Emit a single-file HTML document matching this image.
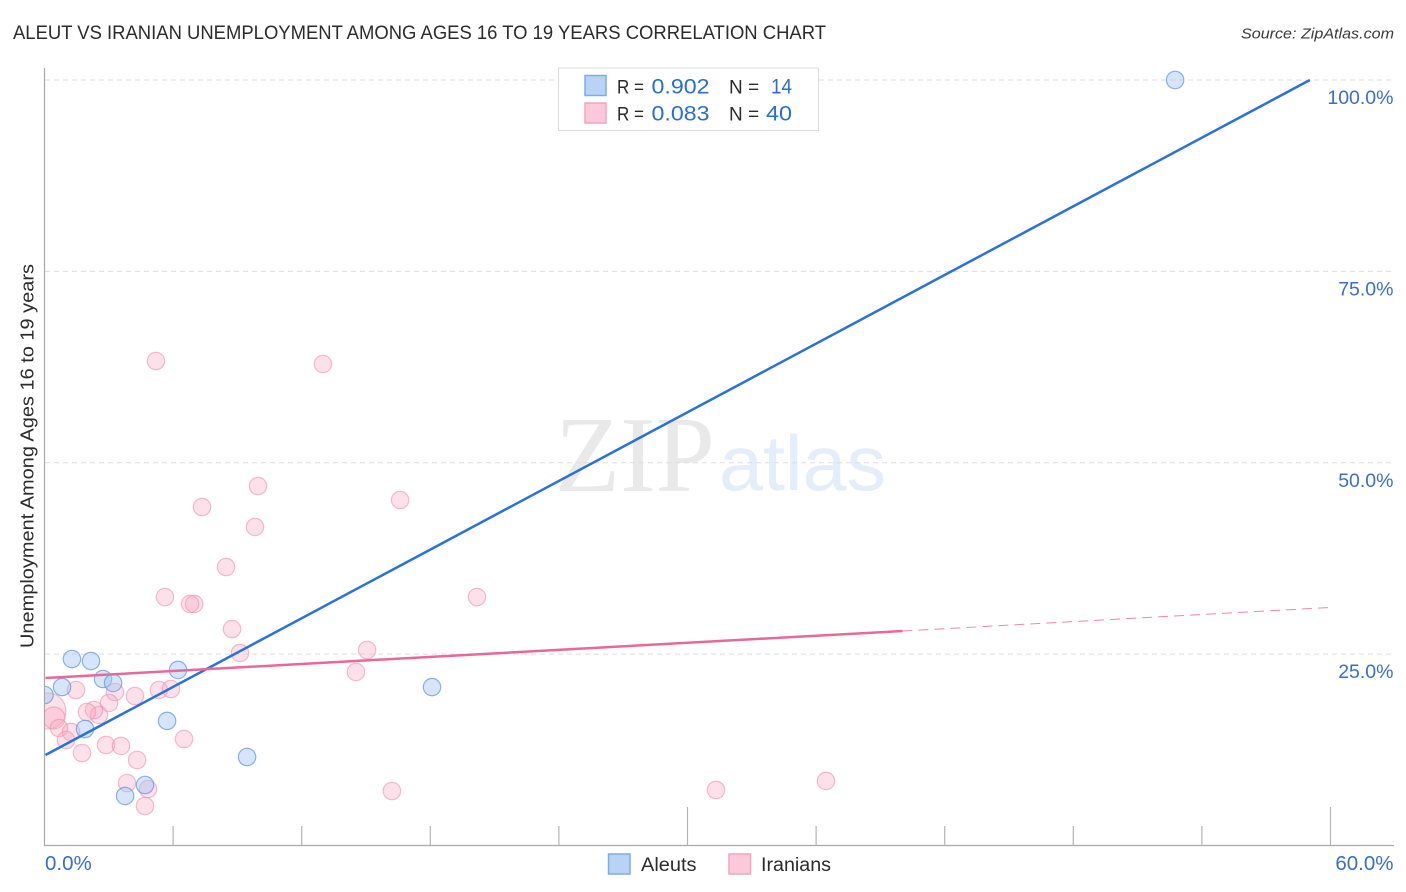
<!DOCTYPE html>
<html lang="en">
<head>
<meta charset="utf-8">
<title>Aleut vs Iranian Unemployment Among Ages 16 to 19 Years Correlation Chart</title>
<style>
html,body{margin:0;padding:0;background:#fff;}
svg{display:block;font-family:"Liberation Sans",sans-serif;}
.tick-label{fill:#3a6fc9;font-size:19.5px;}
.dark{fill:#2b2b2b;}
.val{fill:#2a6fd0;font-size:21px;}
</style>
</head>
<body>
<svg id="chart" width="1406" height="892" viewBox="0 0 1406 892" xmlns="http://www.w3.org/2000/svg">
  <defs>
    <clipPath id="plot-clip"><rect x="45" y="60" width="1349" height="785"></rect></clipPath>
  </defs>
  <text x="13" y="39" font-size="19" fill="#2b2b2b" textLength="813" lengthAdjust="spacingAndGlyphs">ALEUT VS IRANIAN UNEMPLOYMENT AMONG AGES 16 TO 19 YEARS CORRELATION CHART</text>
  <text x="1241" y="38.500" font-size="15" font-style="italic" fill="#3a3a3a" textLength="153" lengthAdjust="spacingAndGlyphs">Source: ZipAtlas.com</text>

  <g>
    <text x="555" y="491" font-family="'Liberation Serif',serif" font-size="108" fill="#e9e9e9" textLength="160" lengthAdjust="spacingAndGlyphs">ZIP</text>
    <text x="719" y="490" font-size="78" fill="#e4edfa" textLength="167" lengthAdjust="spacingAndGlyphs">atlas</text>
  </g>

  <g id="grid"></g>
  <g id="axes"></g>
  <g id="points" clip-path="url(#plot-clip)"></g>
  <g id="trends"></g>
  <g id="tick-labels"></g>

  <text transform="translate(33.500,456) rotate(-90)" text-anchor="middle" font-size="18.500" fill="#2b2b2b" textLength="384" lengthAdjust="spacingAndGlyphs">Unemployment Among Ages 16 to 19 years</text>

  <g>
    <rect x="558.500" y="68" width="260" height="62.500" fill="#fff" fill-opacity="0.9" stroke="#dcdcdc" stroke-width="1"></rect>
    <rect x="585" y="75.500" width="21" height="20" fill="#b9d3f7" stroke="#7fabe6" stroke-width="1.500"></rect>
    <rect x="585" y="103" width="21" height="20" fill="#fcc8da" stroke="#f2a6c0" stroke-width="1.500"></rect>
    <text class="dark" x="617" y="93.500" font-size="19" textLength="27" lengthAdjust="spacingAndGlyphs">R =</text>
    <text class="val" x="651.500" y="93.500" textLength="58" lengthAdjust="spacingAndGlyphs">0.902</text>
    <text class="dark" x="729" y="93.500" font-size="19">N =</text>
    <text class="val" x="771" y="93.500" textLength="21" lengthAdjust="spacingAndGlyphs">14</text>
    <text class="dark" x="617" y="120.500" font-size="19" textLength="27" lengthAdjust="spacingAndGlyphs">R =</text>
    <text class="val" x="651.500" y="120.500" textLength="58" lengthAdjust="spacingAndGlyphs">0.083</text>
    <text class="dark" x="729" y="120.500" font-size="19">N =</text>
    <text class="val" x="766" y="120.500" textLength="26" lengthAdjust="spacingAndGlyphs">40</text>
  </g>

  <g>
    <rect x="608.500" y="854" width="21.500" height="20" fill="#b9d3f7" stroke="#7fabe6" stroke-width="1.500"></rect>
    <text class="dark" x="641" y="871" font-size="19" textLength="55.500" lengthAdjust="spacingAndGlyphs">Aleuts</text>
    <rect x="729" y="854" width="21.500" height="20" fill="#fcc8da" stroke="#f2a6c0" stroke-width="1.500"></rect>
    <text class="dark" x="761" y="871" font-size="19" textLength="70" lengthAdjust="spacingAndGlyphs">Iranians</text>
  </g>
</svg>
<script>
var aleutX = [52.75, 1.28, 2.17, 2.73, 3.2, 0.82, 0, 6.23, 18.08, 5.72, 1.89, 9.45, 4.69, 3.76];
var aleutY = [100, 24.36, 24.1, 21.75, 21.23, 20.7, 19.66, 22.93, 20.7, 16.27, 15.22, 11.56, 7.9, 6.47];
var iranianX = [5.2, 12.99, 9.96, 16.59, 7.35, 9.82, 8.47, 5.62, 20.18, 6.98, 6.79, 8.75, 9.12, 15.05, 14.53, 3.29, 1.47, 4.22, 5.34, 5.9, 3.01, 2.54, 2.31, 1.98, 0.16, 0.44, 0.68, 1.24, 1.0, 1.75, 2.87, 3.57, 4.32, 3.85, 4.83, 4.69, 16.21, 31.33, 36.46, 6.51];
var iranianY = [63.29, 62.9, 46.96, 45.13, 44.22, 41.61, 36.38, 32.46, 32.46, 31.55, 31.55, 28.28, 25.15, 25.54, 22.67, 20.05, 20.31, 19.53, 20.31, 20.44, 18.62, 17.05, 17.7, 17.44, 17.57, 16.66, 15.35, 14.83, 13.78, 12.08, 13.13, 13.0, 11.17, 8.16, 7.38, 5.16, 7.12, 7.25, 8.43, 13.91];
var iranianWeight = [1, 1, 1, 1, 1, 1, 1, 1, 1, 1, 1, 1, 1, 1, 1, 1, 1, 1, 1, 1, 1, 1, 1, 1, 4.3, 1.6, 1, 1, 1, 1, 1, 1, 1, 1, 1, 1, 1, 1, 1, 1];
var aleutTrendX = [0, 59.04];
var aleutTrendY = [11.82, 100];
var iranianTrendX = [0, 40.03];
var iranianTrendY = [21.88, 28.02];
var iranianForecastX = [40.03, 60];
var iranianForecastY = [28.02, 31.1];
var yTicks = [100, 75, 50, 25];
var yTickLabels = ["100.0%", "75.0%", "50.0%", "25.0%"];
var xTicks = [6, 12, 18, 24, 30, 36, 42, 48, 54, 60];
var xMajorTicks = [30, 60];
var xEndLabels = ["0.0%", "60.0%"];
var xEndValues = [0, 60];

var NS = 'http://www.w3.org/2000/svg';
function sx(v) { return 44.5 + v * 1286 / 60; }
function sy(v) { return 845.5 - v * 7.655; }
function make(tag, parent, attrs) {
  var el = document.createElementNS(NS, tag);
  for (var k in attrs) { el.setAttribute(k, attrs[k]); }
  parent.appendChild(el);
  return el;
}
var grid = document.getElementById('grid');
var axes = document.getElementById('axes');
var pointsLayer = document.getElementById('points');
var trends = document.getElementById('trends');
var labels = document.getElementById('tick-labels');

yTicks.forEach(function (t, i) {
  var line = make('line', grid, { x1: 45, x2: 1394, y1: sy(t), y2: sy(t), stroke: '#dddddd', 'stroke-width': 1, 'stroke-dasharray': '5 4' });
  
  
  var label = make('text', labels, { x: 1393.5, y: sy(t) + 24, 'text-anchor': 'end', 'class': 'tick-label' });
  
  
  label.textContent = yTickLabels[i];
});

var yAxis = make('line', axes, { x1: 44.5, x2: 44.5, y1: 68, y2: 846, stroke: '#a9a9a9', 'stroke-width': 1.2 });


var xAxis = make('line', axes, { x1: 44, x2: 1394, y1: 845.5, y2: 845.5, stroke: '#a9a9a9', 'stroke-width': 1.2 });



xTicks.forEach(function (t) {
  var major = xMajorTicks.indexOf(t) >= 0;
  var tick = make('line', axes, { x1: sx(t), x2: sx(t), y1: major ? 807 : 826, y2: 845.5, stroke: '#b4b4b4', 'stroke-width': 1.2 });
  
  
});

xEndLabels.forEach(function (txt, i) {
  var isLast = i === xEndLabels.length - 1;
  var label = make('text', labels, { x: isLast ? 1393.5 : sx(xEndValues[i]) + 0.5, y: 870, 'text-anchor': isLast ? 'end' : 'start', 'class': 'tick-label', style: 'font-size:20.5px' });
  
  
  label.textContent = txt;
});

iranianX.forEach(function (v, i) {
  var c = make('circle', pointsLayer, { cx: sx(v), cy: sy(iranianY[i]), r: 8.7 * Math.sqrt(iranianWeight[i]), fill: '#f9a8c2', 'fill-opacity': 0.35, stroke: '#ee8fae', 'stroke-opacity': 0.6, 'stroke-width': 1.2 });
  
  
});
aleutX.forEach(function (v, i) {
  var c = make('circle', pointsLayer, { cx: sx(v), cy: sy(aleutY[i]), r: 8.7, fill: '#a3c5f2', 'fill-opacity': 0.45, stroke: '#5e94de', 'stroke-opacity': 0.7, 'stroke-width': 1.2 });
  
  
});

var aleutLine = make('line', trends, { x1: sx(aleutTrendX[0]) + 1, y1: sy(aleutTrendY[0]), x2: sx(aleutTrendX[1]), y2: sy(aleutTrendY[1]), stroke: '#2a72d6', 'stroke-width': 2.5 });


var iranLine = make('line', trends, { x1: sx(iranianTrendX[0]) + 1, y1: sy(iranianTrendY[0]), x2: sx(iranianTrendX[1]), y2: sy(iranianTrendY[1]), stroke: '#e9689a', 'stroke-width': 2.5 });


var iranDash = make('line', trends, { x1: sx(iranianForecastX[0]), y1: sy(iranianForecastY[0]), x2: sx(iranianForecastX[1]), y2: sy(iranianForecastY[1]), stroke: '#e9689a', 'stroke-width': 1, 'stroke-opacity': 0.8, 'stroke-dasharray': '10 6' });


</script>
</body>
</html>
